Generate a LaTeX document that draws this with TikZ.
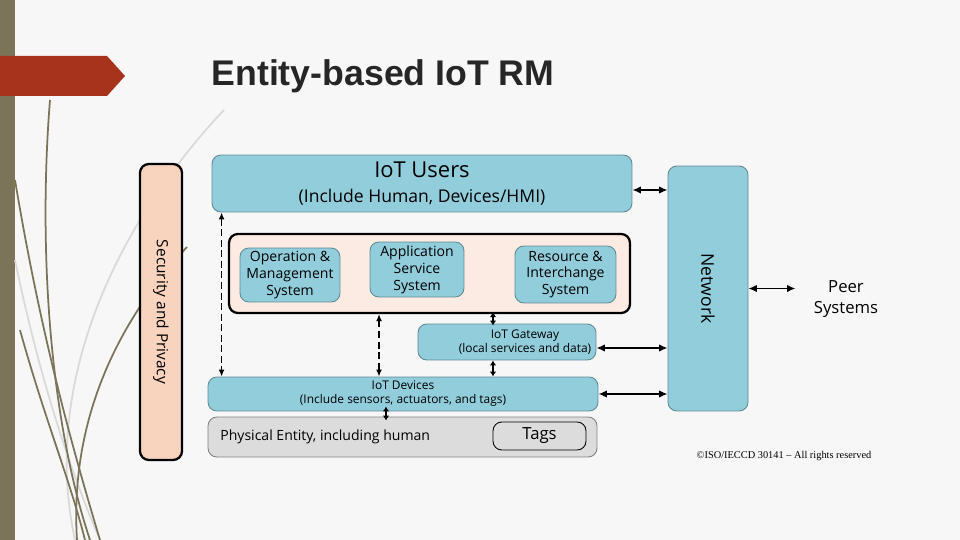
\documentclass[tikz,border=0pt]{standalone}
\usepackage{fontspec}
\setmainfont{Open Sans}
\newfontfamily\titlefont{Liberation Sans}
\newfontfamily\notefont{Liberation Serif}
\usetikzlibrary{arrows.meta}
\definecolor{slidebg}{HTML}{F7F7F7}
\definecolor{olivebar}{HTML}{7B7459}
\definecolor{bannerred}{HTML}{A6331A}
\definecolor{iotblue}{HTML}{92CDDC}
\definecolor{iotedge}{HTML}{5E8A94}
\definecolor{peach}{HTML}{F8D4BE}
\definecolor{lightpeach}{HTML}{FCEBE2}
\definecolor{entgray}{HTML}{DCDCDC}
\definecolor{titlegray}{HTML}{262626}

\begin{document}
\begin{tikzpicture}[x=0.02cm, y=-0.02cm,
      every node/.append style={align=center, inner sep=0pt},
      biarrow/.style={{Latex[length=1.7mm,width=1.5mm]}-{Latex[length=1.7mm,width=1.5mm]}, line width=1pt},
      tinyarrow/.style={{Latex[length=1mm,width=1.3mm]}-{Latex[length=1mm,width=1.3mm]}, line width=1pt},
      dasharrow/.style={{Latex[length=1.4mm,width=1.2mm]}-{Latex[length=1.4mm,width=1.2mm]}, line width=0.8pt, dash pattern=on 4pt off 2pt},
      swirl/.style={olivebar, line width=1pt},
      faint/.style={black!15, line width=1pt}]
    \tikzstyle{layer} = [draw=iotedge, fill=iotblue, rounded corners=5pt, line width=0.5pt]
    \tikzstyle{sub} = [layer, font=\fontsize{8}{9.6}\selectfont]
    \tikzstyle{frame} = [draw=black, line width=1.3pt, rounded corners=5pt]
    % slide background
    \fill[slidebg] (0,0) rectangle (960,540);
    \useasboundingbox (0,0) rectangle (960,540);
    \fill[olivebar] (0,0) rectangle (15,540);
    \draw[faint] (224,110) .. controls (120,220) and (40,380) .. (75,540);
    \draw[faint] (15,260) .. controls (40,380) and (70,470) .. (100,540);
    \draw[swirl] (50,100) .. controls (38,250) and (50,420) .. (90,540);
    \draw[swirl] (15,180) .. controls (40,330) and (70,440) .. (100,540);
    \draw[swirl] (187,247) .. controls (110,330) and (70,430) .. (77,540);
    \draw[swirl] (20,330) .. controls (45,420) and (70,480) .. (85,540);
    \fill[bannerred] (0,56) -- (107,56) -- (125,76) -- (107,96) -- (0,96) -- cycle;
    \node (title) [text=titlegray, font=\titlefont\bfseries\fontsize{20.3}{24}\selectfont] at (383,76) {Entity-based IoT RM};

    % layers
    \node (sec) [frame, fill=peach, minimum width=0.84cm, minimum height=5.92cm] at (161,312) {};
    \node [rotate=-90, font=\fontsize{8.8}{10}\selectfont] at (sec.center) {Security and Privacy};
    \node (users) [layer, minimum width=8.4cm, minimum height=1.14cm] at (422,183.5)
      {{\fontsize{12.5}{14}\selectfont IoT Users}\\[2pt]{\fontsize{10}{12}\selectfont (Include Human, Devices/HMI)}};
    \node (cont) [frame, fill=lightpeach, minimum width=8.02cm, minimum height=1.58cm] at (429.5,273.5) {};
    \node (opm) [sub, minimum width=2cm, minimum height=1.08cm] at (290,275) {Operation \&\\Management\\System};
    \node (app) [sub, minimum width=1.88cm, minimum height=1.1cm] at (417,269.5) {Application\\Service\\System};
    \node (res) [sub, minimum width=2.02cm, minimum height=1.14cm] at (565.5,274.5) {Resource \&\\Interchange\\System};
    \node (gw) [layer, minimum width=3.56cm, minimum height=0.72cm] at (507,342) {};
    \node (gwtext) [font=\fontsize{6.8}{8}\selectfont] at (525,342) {IoT Gateway\\(local services and data)};
    \node (dev) [layer, minimum width=7.8cm, minimum height=0.68cm, font=\fontsize{6.8}{8}\selectfont] at (403,394)
      {IoT Devices\\(Include sensors, actuators, and tags)};
    \node (phys) [draw=black!50, fill=entgray, rounded corners=5pt, line width=0.5pt, minimum width=7.78cm, minimum height=0.8cm] at (402.5,437) {};
    \node (physlabel) [anchor=west, font=\fontsize{8}{10}\selectfont] at (220,437) {Physical Entity, including human};
    \node (tags) [draw=black, fill=entgray, rounded corners=5pt, line width=0.5pt, minimum width=1.86cm, minimum height=0.56cm, font=\fontsize{9.5}{11}\selectfont] at (539.5,436) {Tags};
    \node (net) [layer, minimum width=1.6cm, minimum height=4.9cm] at (708,288.5) {};
    \node [rotate=-90, font=\fontsize{10}{12}\selectfont] at (net.center) {Network};
    \node (peer) [font=\fontsize{9.5}{11.5}\selectfont] at (846,299) {Peer\\Systems};
    \node (note) [font=\notefont\fontsize{5.9}{7}\selectfont] at (784,456) {©ISO/IECCD 30141 – All rights reserved};

    % connectors
    \draw[biarrow] ([yshift=-0.13cm]users.east) -- ([yshift=-0.13cm]users.east -| net.west);
    \draw[biarrow, shorten >=0.36cm] (net.east) -- (net.east -| peer.west);
    \draw[biarrow] ([yshift=-0.12cm]gw.east) -- ([yshift=-0.12cm]gw.east -| net.west);
    \draw[biarrow] (dev.east) -- (dev.east -| net.west);
    \path ([xshift=0.2cm]users.south west) coordinate (secup);
    \draw[dasharrow] (secup) -- (secup |- dev.north);
    \path ([xshift=-1.01cm]cont.south) coordinate (appdn);
    \draw[dasharrow] (appdn) -- (appdn |- dev.north);
    \path ([xshift=-0.28cm]gw.north) coordinate (gwup);
    \draw[tinyarrow] ([yshift=0.04cm]gwup |- cont.south) -- ([yshift=-0.04cm]gwup);
    \path ([xshift=-0.28cm]gw.south) coordinate (gwdn);
    \draw[tinyarrow] (gwdn) -- (gwdn |- dev.north);
    \path ([xshift=-0.34cm]dev.south) coordinate (devdn);
    \draw[tinyarrow] ([yshift=0.1cm]devdn) -- ([yshift=-0.08cm]devdn |- phys.north);
  \end{tikzpicture}
\end{document}
